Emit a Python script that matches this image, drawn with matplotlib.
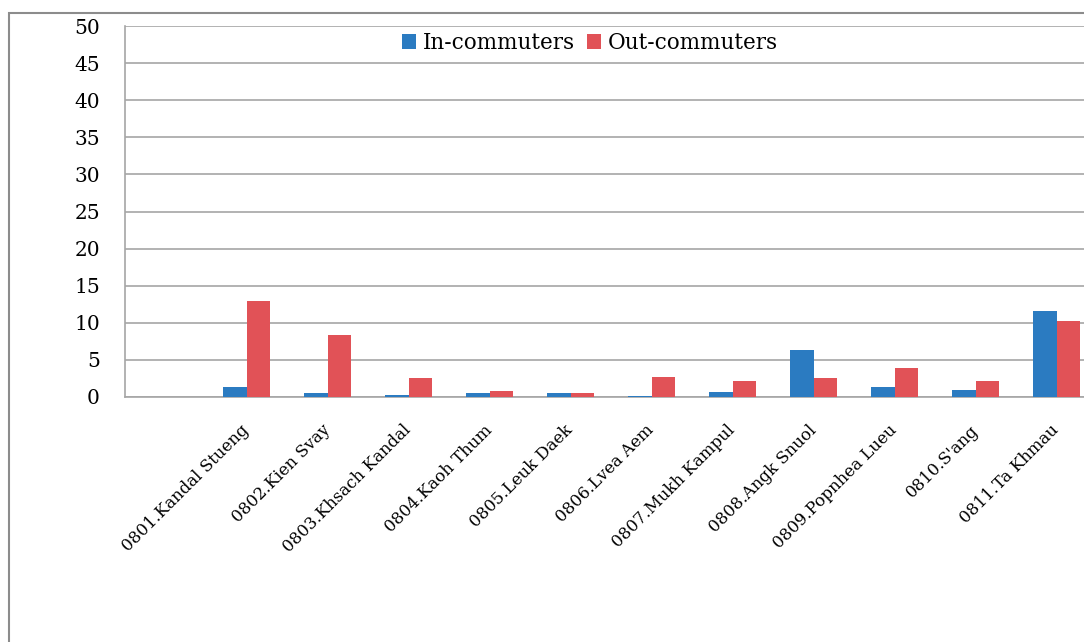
import numpy as np
import matplotlib
matplotlib.use("Agg")
import matplotlib.pyplot as plt
from matplotlib.patches import Rectangle

# data
districts = ["0801.Kandal Stueng", "0802.Kien Svay", "0803.Khsach Kandal",
             "0804.Kaoh Thum", "0805.Leuk Daek", "0806.Lvea Aem",
             "0807.Mukh Kampul", "0808.Angk Snuol", "0809.Popnhea Lueu",
             "0810.S'ang", "0811.Ta Khmau"]
in_commuters = [1.3, 0.6, 0.3, 0.6, 0.6, 0.2, 0.7, 6.4, 1.4, 0.9, 11.6]
out_commuters = [12.9, 8.4, 2.5, 0.8, 0.5, 2.7, 2.2, 2.5, 3.9, 2.2, 10.2]
yticks = list(range(0, 55, 5))

blue = "#2B7BC1"
red = "#E15257"
gray = "#A6A6A6"

plt.rcParams["font.family"] = ["DejaVu Serif"]

fig = plt.figure(figsize=(10.84, 6.42), dpi=100)

# outer chart frame (cut off on the right and bottom like the reference)
fig.patches.append(Rectangle((9 / 1084, -0.05), 1.2, 1 - 13 / 642 + 0.05,
                             transform=fig.transFigure, fill=False,
                             edgecolor="#8C8C8C", linewidth=1.5))

# plot area; one empty slot left of the first district, and it runs past the right edge
ax = fig.add_axes([125 / 1084, 1 - 397 / 642, 972 / 1084, (397 - 26) / 642])

x = np.arange(1, len(districts) + 1)
w = 0.285
ax.bar(x - w / 2, in_commuters, w, color=blue, label="In-commuters", zorder=3)
ax.bar(x + w / 2, out_commuters, w, color=red, label="Out-commuters", zorder=3)

ax.set_xlim(-0.5, len(districts) + 0.5)
ax.set_ylim(0, 50)
ax.set_yticks(yticks)
ax.yaxis.grid(True, color=gray, linewidth=1.2, zorder=0)
ax.set_axisbelow(True)

for s in ["top", "right"]:
    ax.spines[s].set_visible(False)
for s in ["left", "bottom"]:
    ax.spines[s].set_color(gray)
    ax.spines[s].set_linewidth(1.2)

ax.tick_params(axis="y", length=0, pad=18, labelsize=14.5)
ax.tick_params(axis="x", length=0, pad=22)
ax.set_xticks(x)
ax.set_xticklabels(districts, rotation=45, ha="right", va="center",
                   rotation_mode="anchor", fontsize=12)

fig.legend(loc="center", bbox_to_anchor=(590 / 1084, 1 - 43 / 642),
           ncol=2, frameon=False, fontsize=15.5, handlelength=0.65,
           handleheight=0.65, handletextpad=0.3, columnspacing=0.6)

fig.savefig("out.png", dpi=100)
